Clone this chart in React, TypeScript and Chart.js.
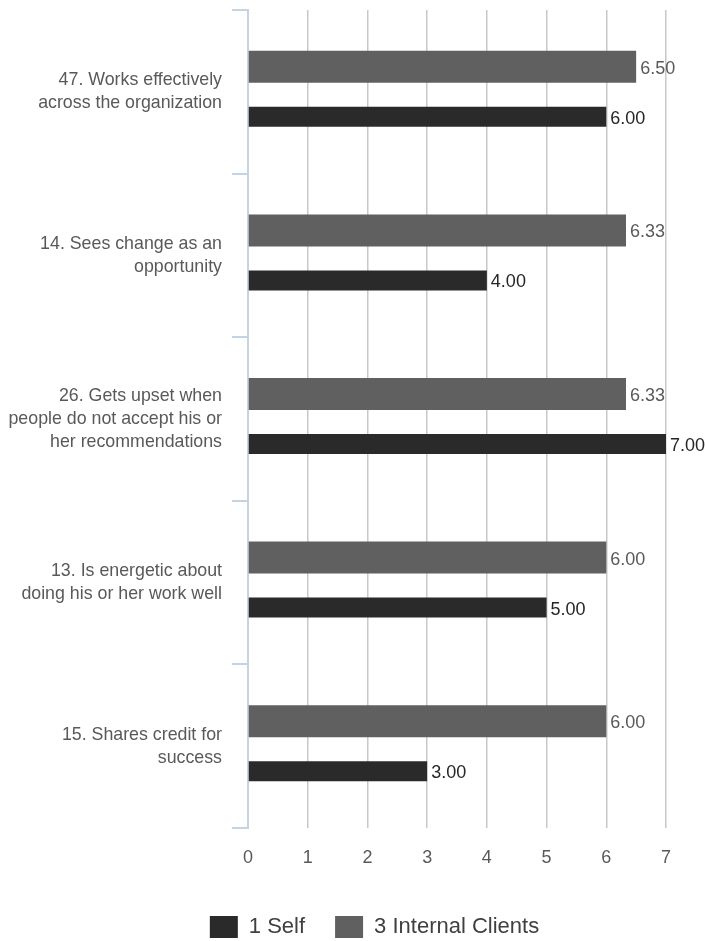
import React, { useEffect, useRef } from "react";
import { Chart, registerables } from "chart.js";

Chart.register(...registerables);

// Survey items (multi-line axis labels)
const items: string[][] = [
  ["47. Works effectively", "across the organization"],
  ["14. Sees change as an", "opportunity"],
  ["26. Gets upset when", "people do not accept his or", "her recommendations"],
  ["13. Is energetic about", "doing his or her work well"],
  ["15. Shares credit for", "success"],
];

// Average ratings per rater group
const selfScores = [6.0, 4.0, 7.0, 5.0, 3.0];
const internalClientScores = [6.5, 6.33, 6.33, 6.0, 6.0];

const seriesNames = ["1 Self", "3 Internal Clients"];
const scaleMin = 0;
const scaleMax = 7;

const FONT = "'Liberation Sans', Arial, Helvetica, sans-serif";
const SELF_COLOR = "#2a2a2a";
const CLIENT_COLOR = "#606060";
const AXIS_BLUE = "#c5d3e3";
const GRID_GRAY = "#c8c8c8";
const TEXT_GRAY = "#595959";
const LEGEND_OFFSET_LEFT = 83;

// Value text at the end of each bar
const valueLabels = {
  id: "valueLabels",
  beforeDraw(chart: any) {
    // shift the legend band so the entries sit under the plot area
    if (chart.legend) chart.legend.left = LEGEND_OFFSET_LEFT;
  },
  afterDatasetsDraw(chart: any) {
    const ctx = chart.ctx as CanvasRenderingContext2D;
    const textColors = [TEXT_GRAY, "#262626"];
    ctx.save();
    ctx.font = `18px ${FONT}`;
    ctx.textAlign = "left";
    ctx.textBaseline = "middle";
    chart.data.datasets.forEach((ds: any, di: number) => {
      const meta = chart.getDatasetMeta(di);
      if (meta.hidden) return;
      meta.data.forEach((bar: any, i: number) => {
        const v = ds.data[i] as number;
        ctx.fillStyle = textColors[di];
        ctx.fillText(v.toFixed(2), bar.x + 4, bar.y + 2);
      });
    });
    ctx.restore();
  },
};

export default function App() {
  const canvasRef = useRef<HTMLCanvasElement | null>(null);

  useEffect(() => {
    if (!canvasRef.current) return;
    const chart = new Chart(canvasRef.current, {
      type: "bar",
      data: {
        labels: items,
        datasets: [
          {
            label: seriesNames[1],
            data: internalClientScores,
            backgroundColor: CLIENT_COLOR,
            borderWidth: 0,
            categoryPercentage: 0.611,
            barPercentage: 0.64,
          },
          {
            label: seriesNames[0],
            data: selfScores,
            backgroundColor: SELF_COLOR,
            borderWidth: 0,
            categoryPercentage: 0.611,
            barPercentage: 0.4,
          },
        ],
      },
      options: {
        indexAxis: "y",
        animation: false,
        responsive: true,
        maintainAspectRatio: false,
        layout: { padding: { top: 10, right: 39, left: 0, bottom: 0 } },
        scales: {
          x: {
            min: scaleMin,
            max: scaleMax,
            ticks: {
              stepSize: 1,
              color: TEXT_GRAY,
              font: { family: FONT, size: 18 },
              padding: 19,
            },
            grid: {
              color: GRID_GRAY,
              lineWidth: 1.5,
              drawTicks: false,
            },
            border: { display: false },
            afterFit: (scale: any) => {
              scale.height = 58;
            },
          },
          y: {
            ticks: {
              color: TEXT_GRAY,
              font: { family: FONT, size: 17.8, lineHeight: 1.3 },
              padding: 10,
            },
            grid: {
              offset: true,
              drawOnChartArea: false,
              drawTicks: true,
              tickLength: 16,
              color: AXIS_BLUE,
              lineWidth: 2,
            },
            border: { display: true, color: AXIS_BLUE, width: 2 },
            afterFit: (scale: any) => {
              scale.width = 248;
              scale.paddingTop = 0;
              scale.paddingBottom = 0;
            },
          },
        },
        plugins: {
          legend: {
            position: "bottom",
            reverse: true,
            labels: {
              boxWidth: 28,
              boxHeight: 22,
              padding: 30,
              color: "#404040",
              font: { family: FONT, size: 22 },
            },
          },
          tooltip: { enabled: false },
        },
      },
      plugins: [valueLabels],
    });
    return () => chart.destroy();
  }, []);

  return (
    <div
      style={{
        position: "absolute",
        left: 0,
        top: 0,
        width: 705,
        height: 941,
        overflow: "hidden",
        background: "#ffffff",
      }}
    >
      <div style={{ position: "relative", width: 705, height: 948 }}>
        <canvas ref={canvasRef} />
      </div>
    </div>
  );
}
